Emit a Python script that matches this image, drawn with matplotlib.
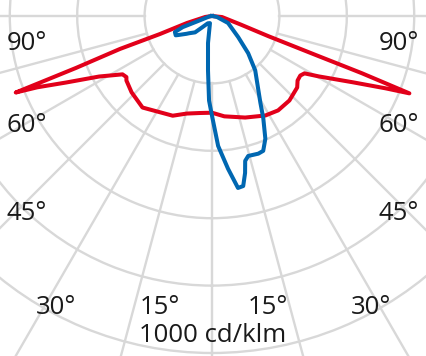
import numpy as np
import matplotlib
matplotlib.use("Agg")
import matplotlib.pyplot as plt

# C0-C180 plane (red): gamma in degrees from nadir (negative = left), intensity in cd/klm
red_gamma = [-90, -82, -74.4, -70.9, -70.3, -69.1, -68.7, -67.8, -65.5, -61.8,
             -56.9, -54.5, -53.0, -46.5, -37.2, -21.5, -14.5, -7, 0, 7, 18.1, 28.2, 35,
             42.5, 50, 53, 56, 58.2, 60.5, 64.8, 67.4, 68.6, 69.1, 69.4, 70.3, 73.4, 84, 90]
red_cd = [0, 20, 77, 164, 290, 432, 625, 560, 476, 380,
          317, 312, 318, 329, 341, 318, 299, 290, 287, 300, 317, 335, 342,
          340, 330, 318, 316, 323, 364, 462, 559, 629, 476, 327, 178, 89, 30, 0]

# C90-C270 plane (blue)
blue_gamma = [-90, -80, -70, -69.2, -66.6, -62, -60.8, -55, -53, -46, -41, -30, -16, -8.4,
              -4.2, -2.0, 0, 2.7, 6.0, 8.6, 10.4, 11.9, 12.9, 14.5, 18.6, 20.8,
              23.5, 26.6, 29.2, 38.5, 44.2, 51.1, 66.4, 79, 90]
blue_cd = [0, 8, 48, 93, 120, 122, 116, 92, 85, 70, 45, 25, 22, 81,
           162, 251, 296, 386, 456, 516, 513, 476, 441, 429, 431, 428,
           397, 340, 294, 206, 154, 100, 52, 15, 0]

ring_values = [200, 400, 600, 800, 1000, 1200]
spoke_angles = np.arange(0, 360, 15)

W, H = 427, 356
cx, cy = 212, 16          # pole position in pixels from top-left
px_per_unit = 0.337
rmax = 1300
R = rmax * px_per_unit

fig = plt.figure(figsize=(W / 100, H / 100), dpi=100)
ax = fig.add_axes([(cx - R) / W, (H - cy - R) / H, 2 * R / W, 2 * R / H],
                  projection="polar")
ax.set_theta_zero_location("S")
ax.set_theta_direction(1)
ax.set_ylim(0, rmax)
ax.set_thetagrids([])
ax.set_rgrids(ring_values, labels=[""] * len(ring_values))
ax.yaxis.grid(True, color="#d8d8d8", lw=1.7)
ax.xaxis.grid(False)
ax.spines["polar"].set_visible(False)
ax.patch.set_alpha(0)

grid_kw = dict(color="#d8d8d8", lw=1.7, zorder=1)
for a in spoke_angles:
    ax.plot([np.radians(a)] * 2, [200, rmax], **grid_kw)

ax.plot(np.radians(red_gamma), red_cd, color="#e2001a", lw=2.9,
        solid_joinstyle="round", zorder=3)
ax.plot(np.radians(blue_gamma), blue_cd, color="#0067b1", lw=2.9,
        solid_joinstyle="round", zorder=4)

font = dict(family=["Open Sans", "DejaVu Sans"], fontsize=18.5, color="#1a1a1a",
            ha="center", va="center")
labels = [("90°", 27, 43), ("90°", 399, 43), ("60°", 27, 125), ("60°", 399, 125),
          ("45°", 27, 214), ("45°", 399, 213), ("30°", 56, 308), ("15°", 160, 308),
          ("15°", 268, 308), ("30°", 371, 307), ("1000 cd/klm", 213, 336)]
for txt, x, y in labels:
    fig.text(x / W, 1 - y / H, txt, **font)

fig.savefig("out.png", dpi=100)
